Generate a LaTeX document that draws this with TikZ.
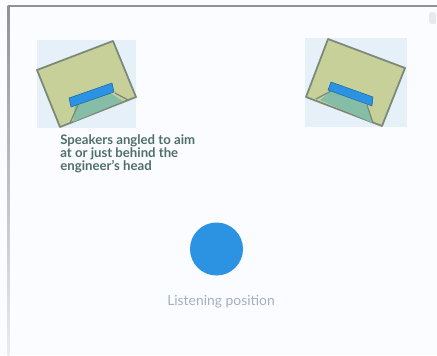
\documentclass[tikz,border=0pt]{standalone}
\usepackage{fontspec}
\setmainfont{Lato}
\definecolor{page}{HTML}{FAFCFF}
\definecolor{pale}{HTML}{E6F0F8}
\definecolor{cabinet}{HTML}{C8D09A}
\definecolor{edge}{HTML}{7C8878}
\definecolor{cone}{HTML}{86BDA6}
\definecolor{bar}{HTML}{2B93E2}
\definecolor{ink}{HTML}{4F6F68}
\definecolor{mist}{HTML}{A3AFC4}
\definecolor{frame}{HTML}{8E9296}
\tikzset{
  cabinetface/.style={fill=cabinet,draw=edge,line width=1pt,line join=round},
  conepatch/.style={fill=cone},
  conelip/.style={draw=edge,line width=.7pt},
  driverbar/.style={fill=bar,draw=bar!70!black,line width=.3pt},
  notetext/.style={text=ink,font=\fontsize{7.5pt}{7.5pt}\selectfont\bfseries,align=left,anchor=north west,inner sep=0pt},
  captext/.style={text=mist,font=\fontsize{7.9pt}{8pt}\selectfont,inner sep=0pt}
}
\begin{document}
\begin{tikzpicture}[x=.2mm,y=-.2mm]
  \useasboundingbox (0,0) rectangle (437,355);
  \fill[page] (0,0) rectangle (437,355);

  % Outer frame.
  \fill[frame] (8,5) rectangle (437,7);
  \shade[top color=frame,middle color=frame!45!page,bottom color=frame!15!page] (7.5,5) rectangle (9.5,355);
  \fill[frame!18!page,rounded corners=1pt] (429,12) rectangle (436,24);

  % Left speaker.
  \fill[pale] (37,40) rectangle (136,128);
  \draw[cabinetface] (113,41)--(136,97)--(60,127)--(37,70)--cycle;
  \fill[conepatch] (75,105)--(110,93)--(123,101)--(73,122)--cycle;
  \draw[conelip] (78,105)--(70,123);
  \draw[conelip] (115,93)--(128,100);
  \draw[driverbar] (69,98)--(112,83)--(114,92)--(71,107)--cycle;

  % Right speaker.
  \fill[pale] (305,38) rectangle (407,127);
  \draw[cabinetface] (328,39)--(405,68)--(382,126)--(306,97)--cycle;
  \fill[conepatch] (331,91)--(367,105)--(373,123)--(320,100)--cycle;
  \draw[conelip] (331,91)--(316,99);
  \draw[conelip] (367,105)--(373,123);
  \draw[driverbar] (331,82)--(373,97)--(372,106)--(328,90)--cycle;

  \node[notetext] (aimnote) at (60,134) {Speakers angled to aim\\at or just behind the\\engineer's head};

  % Engineer and caption.
  \node[circle,fill=bar,minimum size=10.6mm,inner sep=0pt] (listener) at (216.5,249) {};
  \node[captext] (listenlabel) at (221,302) {Listening position};
\end{tikzpicture}
\end{document}
